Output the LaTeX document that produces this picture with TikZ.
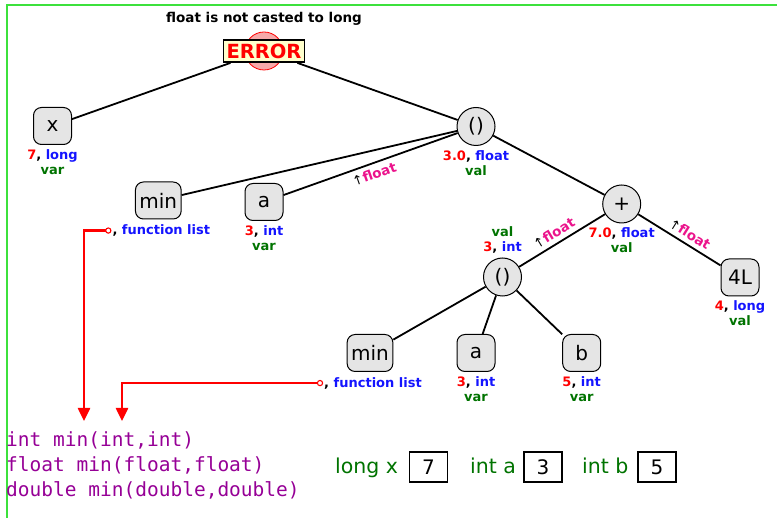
\documentclass[tikz,border=0pt]{standalone}
\usepackage{fontspec}
\setmainfont{DejaVu Sans}
\setmonofont{DejaVu Sans Mono}
\usetikzlibrary{positioning,arrows.meta}

\definecolor{valred}{RGB}{255,0,0}
\definecolor{typeblue}{RGB}{20,20,255}
\definecolor{kindgreen}{RGB}{0,115,0}
\definecolor{castpink}{RGB}{235,20,140}
\definecolor{codepurple}{RGB}{150,0,150}
\definecolor{framegreen}{RGB}{60,225,60}
\definecolor{errfill}{RGB}{255,255,204}
\definecolor{errcirc}{RGB}{246,170,170}

\newcommand{\vt}[2]{\textcolor{valred}{#1}, \textcolor{typeblue}{#2}}
\newcommand{\kind}[1]{\textcolor{kindgreen}{#1}}
\newcommand{\fnlist}{, \textcolor{typeblue}{function list}}
\newcommand{\castto}[1]{{\color{black}\mdseries\fontsize{13}{13}\selectfont ↑}\textcolor{castpink}{#1}}

\tikzset{
	leaf/.style={draw, fill=black!10, rounded corners=8pt, line width=1pt, minimum width=38pt, minimum height=37pt, inner sep=4pt, font=\fontsize{20}{24}\selectfont},
	op/.style={draw, circle, fill=black!10, line width=1pt, minimum size=38pt, inner sep=1pt, font=\fontsize{20}{24}\selectfont},
	info/.style={align=center, inner sep=1pt, font=\bfseries\fontsize{13}{15}\selectfont},
	cast/.style={sloped, inner sep=0.5pt, font=\bfseries\fontsize{13.5}{15}\selectfont},
	edge/.style={line width=1.8pt},
	fnptr/.style={draw=red, line width=2.5pt, -{Triangle[length=13pt,width=12pt]}},
	code/.style={anchor=base west, inner sep=0pt, text=codepurple, font=\ttfamily\fontsize{19.5}{25}\selectfont},
	store/.style={anchor=base west, inner sep=0pt, text=kindgreen, font=\fontsize{20.5}{24}\selectfont},
	cell/.style={draw, line width=1.2pt, minimum width=38pt, minimum height=30pt, inner sep=0pt, font=\fontsize{20}{24}\selectfont}
}

\begin{document}
\begin{tikzpicture}[x=1pt, y=-1pt]
		%%%%% FRAME %%%%%
		\useasboundingbox (0, 0) rectangle (777, 518);
		\draw[line width=2pt, color=framegreen] (777, 5.5) -- (7, 5.5) -- (7, 518);
		
		%%%%% ERROR %%%%%
		\node[inner sep=0pt, font=\bfseries\fontsize{13.5}{16}\selectfont] (title) at (264, 19) {float is not casted to long};
		\draw[line width=0.8pt, color=red, fill=errcirc] (264, 51) circle (19);
		\node[draw, line width=1.8pt, fill=errfill, text=red, inner sep=1.5pt, minimum width=81pt, minimum height=22pt, font=\bfseries\fontsize{19.5}{22}\selectfont] (err) at (264, 51) {ERROR};
		
		%%%%% TREE %%%%%
		\node[leaf] (x) at (52.5, 126) {x};
		\node[info, below=3pt of x] (xinfo) {\vt{7}{long}\\\kind{var}};
		
		\node[op] (call) at (476, 126.5) {()};
		\node[info, below=3pt of call] (callinfo) {\vt{3.0}{float}\\\kind{val}};
		
		\node[leaf] (minA) at (158.3, 200.5) {min};
		\node[info, below=4pt of minA, xshift=3pt] (minAinfo) {\fnlist};
		
		\node[leaf] (aA) at (264, 202) {a};
		\node[info, below=3pt of aA] (aAinfo) {\vt{3}{int}\\\kind{var}};
		
		\node[op] (plus) at (621.7, 204) {+};
		\node[info, below=3pt of plus] (plusinfo) {\vt{7.0}{float}\\\kind{val}};
		
		\node[op] (inner) at (502.5, 277) {()};
		\node[info, above=3pt of inner] (innerinfo) {\kind{val}\\\vt{3}{int}};
		
		\node[leaf] (four) at (740, 277.5) {4L};
		\node[info, below=3pt of four] (fourinfo) {\vt{4}{long}\\\kind{val}};
		
		\node[leaf] (minB) at (370, 353) {min};
		\node[info, below=4pt of minB, xshift=3pt] (minBinfo) {\fnlist};
		
		\node[leaf] (aB) at (476, 353) {a};
		\node[info, below=3pt of aB] (aBinfo) {\vt{3}{int}\\\kind{var}};
		
		\node[leaf] (bB) at (581.7, 353) {b};
		\node[info, below=3pt of bB] (bBinfo) {\vt{5}{int}\\\kind{var}};
		
		\draw[edge] (err) -- (x);
		\draw[edge] (err) -- (call);
		\draw[edge] (call) -- (minA);
		\draw[edge] (aA) -- node[cast, below=4pt, pos=0.5] {\castto{float}} (call);
		\draw[edge] (call) -- (plus);
		\draw[edge] (inner) -- node[cast, above=4pt, pos=0.47] {\castto{float}} (plus);
		\draw[edge] (plus) -- node[cast, above=4pt, pos=0.56] {\castto{float}} (four);
		\draw[edge] (inner) -- (minB);
		\draw[edge] (inner) -- (aB);
		\draw[edge] (inner) -- (bB);
		
		%%%%% FUNCTION LIST %%%%%
		\node[code] (decl1) at (6, 446.7) {int min(int,int)};
		\node[code] (decl2) at (6, 471.7) {float min(float,float)};
		\node[code] (decl3) at (6, 496.7) {double min(double,double)};
		
		\coordinate (ptrA) at ([xshift=-3pt]minAinfo.west);
		\coordinate (ptrB) at ([xshift=-3pt]minBinfo.west);
		\coordinate (tgtA) at (84, 421);
		\coordinate (tgtB) at (122, 421);
		\draw[fnptr] (ptrA) -| (tgtA);
		\draw[fnptr] (ptrB) -| (tgtB);
		\draw[line width=1.1pt, color=red, fill=white] (ptrA) circle (2.6);
		\draw[line width=1.1pt, color=red, fill=white] (ptrB) circle (2.6);
		
		%%%%% STORE %%%%%
		\node[store] (xdecl) at (335, 473.3) {long x};
		\node[cell] (xcell) at (428.5, 467) {7};
		\node[store] (adecl) at (470, 473.3) {int a};
		\node[cell] (acell) at (543, 467) {3};
		\node[store] (bdecl) at (582, 473.3) {int b};
		\node[cell] (bcell) at (657, 467) {5};
		
\end{tikzpicture}
\end{document}
